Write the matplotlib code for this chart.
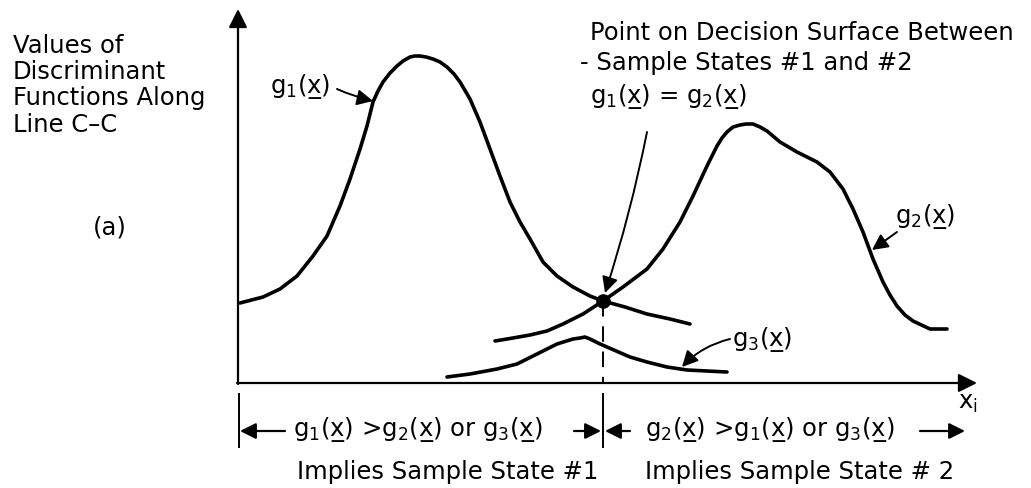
import matplotlib
matplotlib.use("Agg")
import matplotlib.pyplot as plt
from matplotlib.patches import FancyArrowPatch

# ---- data (x: distance along line C-C from the vertical axis, y: discriminant value) ----
g1_x = [2, 25, 42, 59, 75, 89, 102, 112, 122, 129, 135, 140, 145, 152, 159, 165, 172, 177, 182,
        188, 195, 202, 209, 216, 222, 232, 242, 252, 262, 272, 282, 292, 305, 319, 335, 352,
        365, 387, 409, 432, 452]
g1_y = [80, 86, 94, 107, 127, 147, 177, 204, 234, 257, 281, 292, 301, 310, 317, 322, 326, 327,
        327, 326, 324, 321, 316, 309, 301, 284, 261, 234, 207, 181, 161, 144, 121, 107, 96, 87,
        82, 76, 69, 64, 59]

g2_x = [257, 275, 292, 309, 325, 345, 365, 385, 409, 425, 442, 455, 469, 479, 484, 489, 495,
        502, 508, 515, 522, 529, 542, 559, 579, 592, 605, 615, 625, 635, 645, 652, 659, 667,
        675, 692, 709]
g2_y = [42, 45, 48, 52, 59, 69, 82, 96, 114, 134, 161, 187, 217, 237, 245, 251, 256,
        258, 259, 259, 256, 252, 241, 231, 221, 211, 194, 174, 151, 124, 101, 88, 77, 68,
        62, 54, 54]

g3_x = [209, 232, 259, 279, 299, 319, 335, 342, 347, 352, 360, 369, 392, 409, 429, 449, 489]
g3_y = [6, 9, 14, 19, 29, 39, 44, 45, 46, 44, 40, 36, 26, 21, 16, 13, 11]

decision_x = 365
decision_y = 82

# ---- mathtext helper for underlined x ----
def _has_underline():
    try:
        from matplotlib.mathtext import MathTextParser
        MathTextParser("path").parse(r"$\underline{x}$")
        return True
    except Exception:
        return False

UL = _has_underline()

def g(sub):
    if UL:
        return r"$\mathregular{g_{%s}(\underline{x})}$" % sub
    return "g$_{%s}$(x\u0332)" % sub

# ---- figure ----
fig = plt.figure(figsize=(10.31, 4.89), dpi=100)
ax = fig.add_axes([0, 0, 1, 1])
ax.set_xlim(-238, 793)
ax.set_ylim(-105, 384)
ax.axis("off")

plt.rcParams["font.family"] = "DejaVu Sans"
FS = 17.5
LW = 2.6

# axes with arrows
ax.add_patch(FancyArrowPatch((0, -1), (0, 374), arrowstyle="-|>", mutation_scale=28,
                             lw=1.6, color="black", shrinkA=0, shrinkB=0))
ax.add_patch(FancyArrowPatch((-1, 0), (739, 0), arrowstyle="-|>", mutation_scale=28,
                             lw=1.6, color="black", shrinkA=0, shrinkB=0))

# curves
for xs, ys in ((g1_x, g1_y), (g2_x, g2_y), (g3_x, g3_y)):
    ax.plot(xs, ys, color="black", lw=LW, solid_capstyle="round", solid_joinstyle="round")

# decision point and dashed line
ax.plot([decision_x], [decision_y], "o", color="black", ms=9.5)
ax.plot([decision_x, decision_x], [decision_y, 0], color="black", lw=1.4, ls=(0, (8, 5)))
ax.plot([decision_x, decision_x], [-11, -64], color="black", lw=1.4)
ax.plot([1, 1], [-11, -64], color="black", lw=1.4)

# region arrows
def arr(p0, p1):
    ax.add_patch(FancyArrowPatch(p0, p1, arrowstyle="-|>", mutation_scale=24,
                                 lw=1.6, color="black", shrinkA=0, shrinkB=0))

yb = -48
arr((47, yb), (2, yb))
arr((336, yb), (363, yb))
arr((392, yb), (367, yb))
arr((682, yb), (727, yb))

# annotation arrows
def ann(p0, p1, rad=0.0):
    ax.add_patch(FancyArrowPatch(p0, p1, arrowstyle="-|>", mutation_scale=24, lw=1.4,
                                 color="black", shrinkA=0, shrinkB=0,
                                 connectionstyle="arc3,rad=%g" % rad))

ann((99, 294), (135, 282), 0.05)
ann((659, 151), (634, 133), 0.0)
ann((492, 44), (444, 16), 0.15)
ann((409, 251), (367, 90), -0.03)

# texts
tk = dict(fontsize=FS, color="black", ha="left", va="center")
ax.text(-225, 338, "Values of", **tk)
ax.text(-225, 312, "Discriminant", **tk)
ax.text(-225, 286, "Functions Along", **tk)
ax.text(-225, 259, "Line C\u2013C", **tk)
ax.text(-128, 156, "(a)", fontsize=FS, ha="center", va="center")

ax.text(352, 351, "Point on Decision Surface Between", **tk)
ax.text(342, 321, "- Sample States #1 and #2", **tk)
ax.text(352, 287, g(1) + " = " + g(2), **tk)

ax.text(32, 297, g(1), **tk)
ax.text(657, 167, g(2), **tk)
ax.text(494, 44, g(3), **tk)

ax.text(55, -46, g(1) + " >" + g(2) + " or " + g(3), **tk)
ax.text(407, -46, g(2) + " >" + g(1) + " or " + g(3), **tk)
ax.text(59, -88, "Implies Sample State #1", **tk)
ax.text(407, -88, "Implies Sample State # 2", **tk)
ax.text(720, -19, r"x$_\mathregular{i}$", **tk)

fig.savefig("out.png", dpi=100)
